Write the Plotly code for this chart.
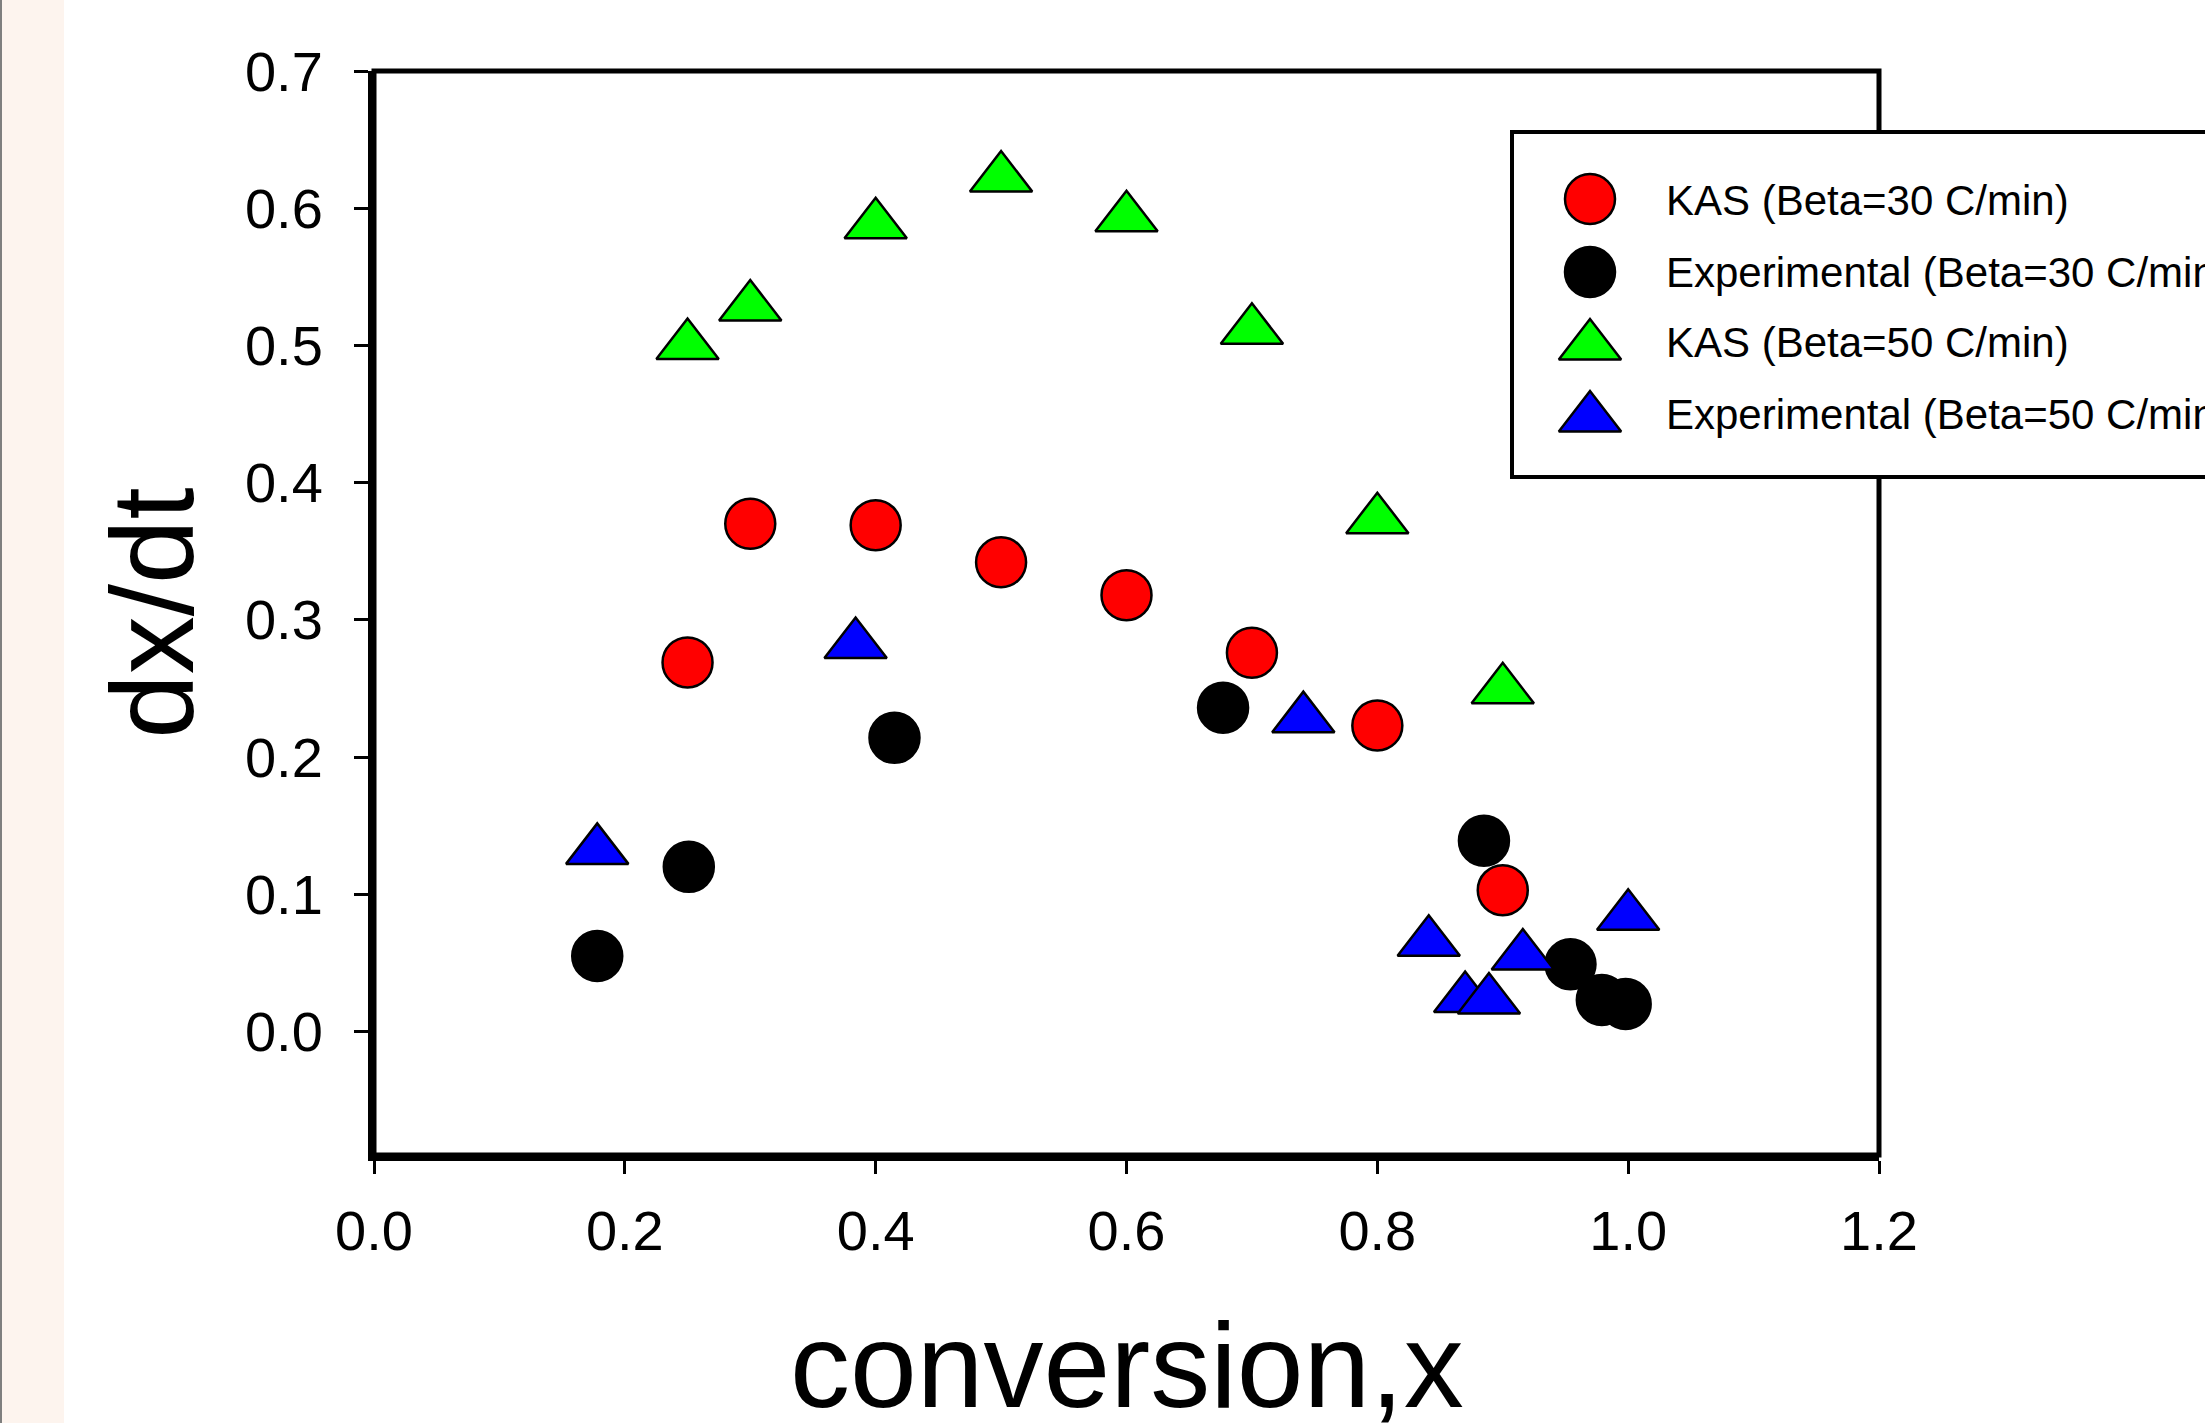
import plotly.graph_objects as go

# ---------------- data ----------------
series_names = [
    "KAS (Beta=30 C/min)",
    "Experimental (Beta=30 C/min)",
    "KAS (Beta=50 C/min)",
    "Experimental (Beta=50 C/min)",
]
kas30_x = [0.25, 0.30, 0.40, 0.50, 0.60, 0.70, 0.80, 0.90]
kas30_y = [0.269, 0.370, 0.369, 0.342, 0.318, 0.276, 0.223, 0.103]
exp30_x = [0.178, 0.251, 0.415, 0.677, 0.885, 0.954, 0.979, 0.998]
exp30_y = [0.055, 0.120, 0.214, 0.236, 0.139, 0.049, 0.023, 0.020]
kas50_x = [0.25, 0.30, 0.40, 0.50, 0.60, 0.70, 0.80, 0.90]
kas50_y = [0.500, 0.528, 0.588, 0.622, 0.593, 0.511, 0.373, 0.249]
exp50_x = [0.178, 0.384, 0.741, 0.841, 0.870, 0.889, 0.916, 1.000]
exp50_y = [0.132, 0.282, 0.228, 0.065, 0.024, 0.023, 0.055, 0.084]

x_ticks = [0.0, 0.2, 0.4, 0.6, 0.8, 1.0, 1.2]
y_ticks = [0.0, 0.1, 0.2, 0.3, 0.4, 0.5, 0.6, 0.7]
x_title = "conversion,x"
y_title = "dx/dt"

# ---------------- styles / layout geometry ----------------
W, H = 2205, 1423
PL, PR, PT, PB = 374, 1879, 71, 1155
FONT = "Liberation Sans, Arial, Helvetica, sans-serif"

def xp(px):
    return (px - PL) / (PR - PL)

def yp(py):
    return (PB - py) / (PB - PT)

styles = [
    dict(symbol="circle", color="#FF0000", size=50),
    dict(symbol="circle", color="#000000", size=50),
    dict(symbol="triangle-up", color="#00FF00", size=54),
    dict(symbol="triangle-up", color="#0000FF", size=54),
]
xs = [kas30_x, exp30_x, kas50_x, exp50_x]
ys = [kas30_y, exp30_y, kas50_y, exp50_y]

fig = go.Figure()
for name, st, x, y in zip(series_names, styles, xs, ys):
    fig.add_trace(go.Scatter(
        x=x, y=y, mode="markers", name=name, showlegend=False,
        marker=dict(symbol=st["symbol"], color=st["color"], size=st["size"],
                    line=dict(color="#000000", width=2.5)),
        cliponaxis=False,
    ))

# ---------------- hand-drawn legend (large symbols like the original) ----------------
leg_left, leg_top, leg_bottom = 1512, 132, 477
leg_sym_x = 1590
leg_text_x = 1664
leg_rows = [199, 272, 346, 418]
for name, st, ry in zip(series_names, styles, leg_rows):
    fig.add_trace(go.Scatter(
        x=[xp(leg_sym_x)], y=[yp(ry)], mode="markers", showlegend=False,
        xaxis="x2", yaxis="y2", hoverinfo="skip",
        marker=dict(symbol=st["symbol"], color=st["color"], size=st["size"],
                    line=dict(color="#000000", width=2.5)),
    ))
annotations = []
text_rows = [200, 272, 342, 414]
for name, ry in zip(series_names, text_rows):
    annotations.append(dict(
        x=xp(leg_text_x), y=yp(ry), xref="paper", yref="paper",
        text=name, showarrow=False, xanchor="left", yanchor="middle",
        font=dict(family=FONT, size=42, color="#000000"),
    ))
# x-axis title (placed as an annotation so it can sit low, as in the original)
annotations.append(dict(
    x=0.5, y=yp(1365), xref="paper", yref="paper", text=x_title,
    showarrow=False, xanchor="center", yanchor="middle",
    font=dict(family=FONT, size=120, color="#000000"),
))

shapes = [
    # beige strip at the left edge
    dict(type="rect", xref="paper", yref="paper", x0=xp(0), x1=xp(64),
         y0=yp(H + 10), y1=yp(-10), fillcolor="#FDF4EE", line=dict(width=0),
         layer="below"),
    dict(type="line", xref="paper", yref="paper", x0=xp(1), x1=xp(1),
         y0=yp(H + 10), y1=yp(-10), line=dict(color="#7F7F7F", width=2),
         layer="below"),
    # plot frame (top/right)
    dict(type="rect", xref="paper", yref="paper", x0=0, x1=1, y0=0, y1=1,
         line=dict(color="#000000", width=5), fillcolor="rgba(0,0,0,0)",
         layer="below"),
    # legend box
    dict(type="rect", xref="paper", yref="paper", x0=xp(leg_left), x1=xp(2300),
         y0=yp(leg_bottom), y1=yp(leg_top),
         line=dict(color="#000000", width=4), fillcolor="#FFFFFF",
         layer="below"),
]

fig.update_layout(
    width=W, height=H,
    margin=dict(l=PL, r=W - PR, t=PT, b=H - PB, autoexpand=False),
    paper_bgcolor="#FFFFFF", plot_bgcolor="#FFFFFF",
    font=dict(family=FONT, color="#000000"),
    showlegend=False,
    shapes=shapes,
    annotations=annotations,
    xaxis=dict(
        range=[0, 1.2], tickvals=x_ticks, ticktext=[f"{v:.1f}" for v in x_ticks],
        ticks="outside", ticklen=13, tickwidth=2.5, tickcolor="#000000",
        showline=True, linewidth=6, linecolor="#000000",
        showgrid=False, zeroline=False,
        tickfont=dict(family=FONT, size=56, color="#000000"),
        ticklabelstandoff=9,
    ),
    yaxis=dict(
        range=[-0.09, 0.7], tickvals=y_ticks, ticktext=[f"{v:.1f}" for v in y_ticks],
        ticks="outside", ticklen=14, tickwidth=3, tickcolor="#000000",
        showline=True, linewidth=6, linecolor="#000000",
        showgrid=False, zeroline=False,
        tickfont=dict(family=FONT, size=56, color="#000000"),
        ticklabelstandoff=20,
        title=dict(text=y_title, font=dict(family=FONT, size=116, color="#000000"),
                   standoff=14),
    ),
    xaxis2=dict(overlaying="x", anchor="y2", range=[0, 1], visible=False, fixedrange=True),
    yaxis2=dict(overlaying="y", anchor="x2", range=[0, 1], visible=False, fixedrange=True),
)

fig.write_html(
    "out.html",
    config={"displayModeBar": False},
    post_script="document.body.style.margin='0';document.body.style.overflow='hidden';",
)
